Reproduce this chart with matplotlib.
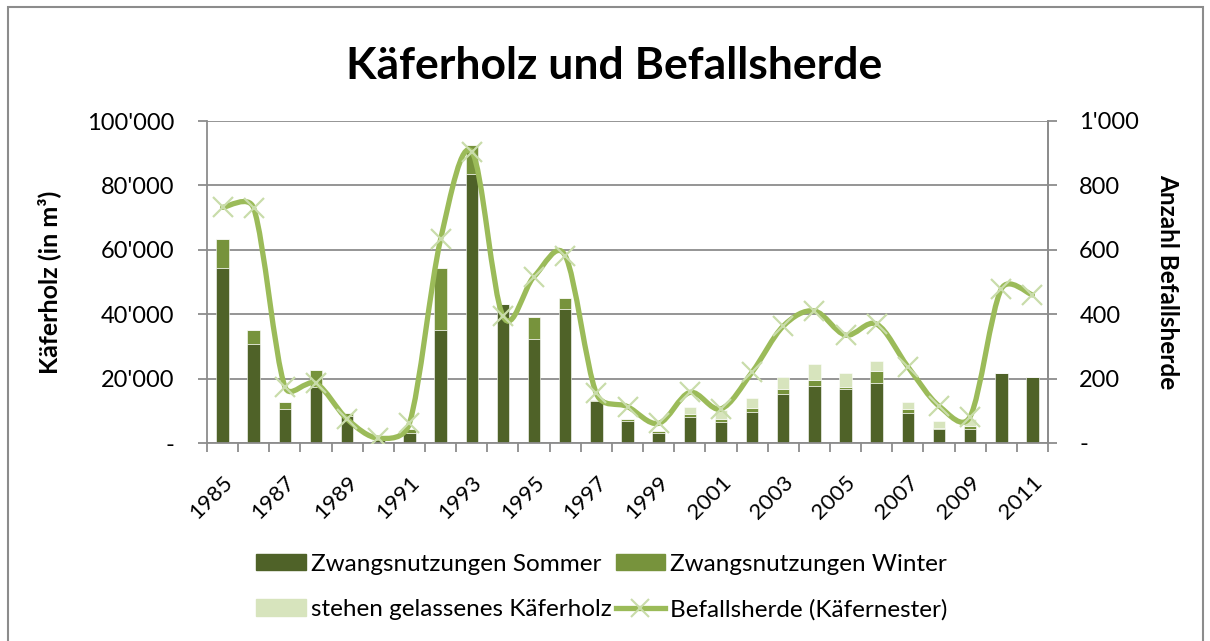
import numpy as np
import matplotlib
matplotlib.use("Agg")
import matplotlib.pyplot as plt
from matplotlib.path import Path
from matplotlib.patches import PathPatch, Rectangle, Patch
from matplotlib.lines import Line2D
from matplotlib.ticker import FuncFormatter
from matplotlib.transforms import ScaledTranslation

plt.rcParams['font.family'] = ['Lato', 'DejaVu Sans']

# --- Daten ---
jahre = list(range(1985, 2012))
sommer = [54.4, 30.8, 10.6, 17.5, 8.5, 1.0, 3.2, 35.2, 83.5, 43.1, 32.4, 41.5, 13.0, 6.9,
          3.2, 8.2, 6.6, 9.7, 15.1, 17.8, 16.7, 18.7, 9.2, 4.2, 4.5, 21.6, 20.6]
winter = [9.0, 4.4, 2.1, 5.2, 0.7, 0.0, 1.3, 19.2, 9.0, 0.0, 6.7, 3.6, 0.5, 0.7,
          0.6, 0.8, 0.9, 1.3, 1.7, 1.8, 0.7, 3.7, 1.3, 0.6, 0.8, 0.0, 0.0]
stehen = [0, 0, 0, 0, 0, 0, 0, 0, 0, 0, 0, 0, 0, 0,
          0, 2.2, 2.7, 2.9, 3.8, 4.8, 4.3, 3.1, 2.3, 2.1, 2.2, 0, 0]
herde = [732, 729, 175, 185, 74, 15, 61, 633, 905, 394, 517, 582, 154, 113,
         61, 157, 106, 220, 363, 410, 335, 369, 237, 115, 82, 478, 460]

sommer = np.array(sommer) * 1000
winter = np.array(winter) * 1000
stehen = np.array(stehen) * 1000

c_sommer = '#4F6228'
c_winter = '#77933C'
c_stehen = '#D7E4BD'
c_linie = '#9BBB59'
c_marker = '#C9DCAA'
c_grid = '#8C8C8C'

def tausender(v, p):
    return '-' if v == 0 else f"{int(v):,}".replace(',', "'")

fig = plt.figure(figsize=(12.1, 6.41), dpi=100)
# Rahmen um das Diagramm
fig.patches.append(Rectangle((8 / 1210, -0.05), 1195 / 1210, 1.05 - 7 / 641, transform=fig.transFigure,
                             fill=False, edgecolor='#8C8C8C', linewidth=1.5))

ax = fig.add_axes([207 / 1210, 1 - 443 / 641, 841 / 1210, 322 / 641])
x = np.arange(len(jahre))
b = 0.4
ax.bar(x, sommer, b, color=c_sommer, edgecolor='#ffffff', linewidth=0.4, zorder=2)
ax.bar(x, winter, b, bottom=sommer, color=c_winter, edgecolor='#ffffff', linewidth=0.4, zorder=2)
ax.bar(x, stehen, b, bottom=sommer + winter, color=c_stehen, edgecolor='#ffffff', linewidth=0.4, zorder=2)

ax.set_xlim(-0.5, len(jahre) - 0.5)
ax.set_ylim(0, 100000)
ax.set_yticks(np.arange(0, 100001, 20000))
ax.yaxis.set_major_formatter(FuncFormatter(tausender))
ax.grid(axis='y', color=c_grid, linewidth=1.3, zorder=0)
ax.set_axisbelow(True)

ax.set_xticks(x[::2])
ax.set_xticklabels([str(j) for j in jahre[::2]], rotation=45, ha='right', va='top',
                   rotation_mode='anchor', fontsize=16)
verschiebung = ScaledTranslation(-10 / 100, 0, fig.dpi_scale_trans)
for lab in ax.get_xticklabels():
    lab.set_transform(lab.get_transform() + verschiebung)
ax.set_xticks(np.arange(-0.5, len(jahre), 1), minor=True)
ax.tick_params(axis='x', which='major', length=0, pad=21)
ax.tick_params(axis='x', which='minor', length=6.5, width=1.3, color=c_grid)
ax.tick_params(axis='y', length=6.5, width=1.3, color=c_grid, labelsize=17, pad=17)

ax.spines['top'].set_visible(False)
for s in ['left', 'right', 'bottom']:
    ax.spines[s].set_color(c_grid)
    ax.spines[s].set_linewidth(1.3)

ax.set_ylabel('Käferholz (in m³)', fontsize=18, fontweight='bold')
ax.yaxis.set_label_coords((61 - 207) / 841, 0.5)

# --- Sekundärachse mit geglätteter Linie ---
ax2 = ax.twinx()
ax2.set_ylim(0, 1000)
ax2.set_yticks(np.arange(0, 1001, 200))
ax2.yaxis.set_major_formatter(FuncFormatter(tausender))
ax2.tick_params(axis='y', length=6.5, width=1.3, color=c_grid, labelsize=17, pad=16)
for s in ['top', 'left', 'bottom']:
    ax2.spines[s].set_visible(False)
ax2.spines['right'].set_color(c_grid)
ax2.spines['right'].set_linewidth(1.3)
ax2.set_ylabel('Anzahl Befallsherde', fontsize=17.5, fontweight='bold', rotation=270, va='center')
ax2.yaxis.set_label_coords((1168 - 207) / 841, 0.5)

# Bezier-Glättung wie in Excel: Tangente 1/6, begrenzt auf halbe Sehnenlaenge (in Pixeln)
sx = 841 / len(jahre)
sy = 322 / 1000
pts = np.column_stack([x * sx, np.array(herde) * sy]).astype(float)
verts = [pts[0]]
codes = [Path.MOVETO]
n = len(pts)
for i in range(n - 1):
    p0 = pts[i - 1] if i > 0 else pts[i]
    p1 = pts[i]
    p2 = pts[i + 1]
    p3 = pts[i + 2] if i + 2 < n else pts[i + 1]
    d12 = np.hypot(*(p2 - p1))
    d02 = np.hypot(*(p2 - p0))
    d13 = np.hypot(*(p3 - p1))
    f1 = 1 / 6 if d02 / 6 < d12 / 2 else d12 / 2 / d02
    f2 = 1 / 6 if d13 / 6 < d12 / 2 else d12 / 2 / d13
    verts += [p1 + (p2 - p0) * f1, p2 - (p3 - p1) * f2, p2]
    codes += [Path.CURVE4] * 3
verts = np.array(verts) / np.array([sx, sy])
ax2.add_patch(PathPatch(Path(verts, codes), facecolor='none', edgecolor=c_linie,
                        linewidth=3.8, capstyle='round', zorder=3))
ax2.plot(x, herde, linestyle='none', marker='x', markersize=14, markeredgewidth=1.6,
         color=c_marker, zorder=4)

fig.suptitle('Käferholz und Befallsherde', fontsize=32, fontweight='bold', x=614 / 1210, y=0.928)

handles = [Patch(color=c_sommer), Patch(color=c_stehen), Patch(color=c_winter),
           Line2D([0], [0], color=c_linie, linewidth=3.8, marker='x', markersize=13,
                  markeredgecolor=c_marker, markeredgewidth=1.5)]
labels = ['Zwangsnutzungen Sommer', 'stehen gelassenes Käferholz', 'Zwangsnutzungen Winter',
          'Befallsherde (Käfernester)']
fig.legend(handles, labels, ncol=2, loc='center', bbox_to_anchor=(602 / 1210, 1 - 587 / 641),
           frameon=False, fontsize=17.5, handlelength=2.05, handleheight=0.66, handletextpad=0.2,
           columnspacing=0.15, labelspacing=1.0)

fig.savefig('out.png', dpi=100)
